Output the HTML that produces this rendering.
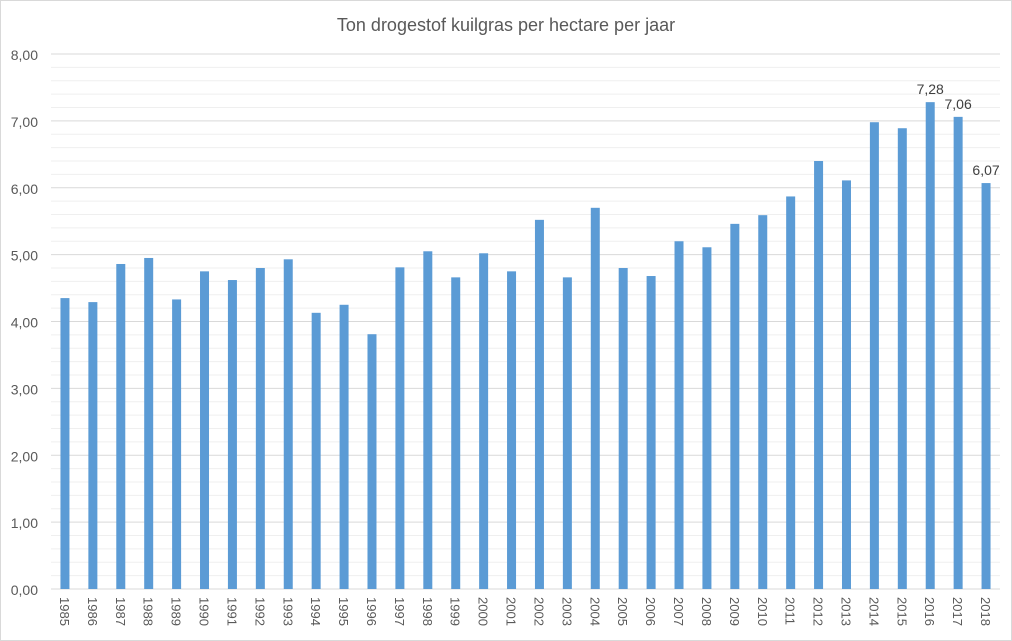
<!DOCTYPE html>
<html><head><meta charset="utf-8"><style>
body{margin:0;background:#fff;font-family:"Liberation Sans",sans-serif}
svg{display:block}
</style></head><body>
<svg id="chart" width="1012" height="641">
<rect x="0.5" y="0.5" width="1011" height="640" fill="#fff" stroke="#d9d9d9"/>
<text x="506" y="31" text-anchor="middle" font-size="18" fill="#595959">Ton drogestof kuilgras per hectare per jaar</text>
<g id="grid"></g><g id="bars"></g><g id="labels"></g>
</svg>
<script>
const years=[1985,1986,1987,1988,1989,1990,1991,1992,1993,1994,1995,1996,1997,1998,1999,2000,2001,2002,2003,2004,2005,2006,2007,2008,2009,2010,2011,2012,2013,2014,2015,2016,2017,2018];
const values=[4.35,4.29,4.86,4.95,4.33,4.75,4.62,4.80,4.93,4.13,4.25,3.81,4.81,5.05,4.66,5.02,4.75,5.52,4.66,5.70,4.80,4.68,5.20,5.11,5.46,5.59,5.87,6.40,6.11,6.98,6.89,7.28,7.06,6.07];
const yTicks=[0,1,2,3,4,5,6,7,8];
const labeled=["7,28","7,06","6,07"];
const NS="http://www.w3.org/2000/svg";
const x0=51,x1=1000,yBase=589,yTop=54,yMax=8;
const band=(x1-x0)/years.length;
const y=v=>yBase-(v/yMax)*(yBase-yTop);
const xc=i=>x0+band*(i+0.5);
function mk(t,a,p){const e=document.createElementNS(NS,t);for(const k in a)e.setAttribute(k,a[k]);document.getElementById(p).appendChild(e);return e;}
for(let v=0;v<=yMax+1e-9;v+=0.2){
 const major=Math.abs(v-Math.round(v))<1e-6;
 const l=mk('line',{x1:x0,x2:x1,y1:y(v),y2:y(v),stroke:major?'#d9d9d9':'#efefef','stroke-width':1},'grid');
 
 
}
yTicks.forEach(t=>{
 const e=mk('text',{x:38,y:y(t)+6,'text-anchor':'end','font-size':14,fill:'#595959'},'labels');
 e.textContent=t.toFixed(2).replace('.',',');
 
 
});
values.forEach((v,i)=>{
 const r=mk('rect',{x:xc(i)-4.5,y:y(v),width:9,height:yBase-y(v),fill:'#5b9bd5'},'bars');
 
 
 const t=mk('text',{transform:`translate(${xc(i)-5},${yBase+8}) rotate(90)`,'font-size':13,fill:'#595959'},'labels');
 t.textContent=years[i];
 
 
 const k=i-(values.length-3);
 if(k>=0){
  const d=mk('text',{x:xc(i),y:y(v)-8,'text-anchor':'middle','font-size':14,fill:'#404040'},'labels');
  d.textContent=labeled[k];
  
  
 }
});
</script>
</body></html>
